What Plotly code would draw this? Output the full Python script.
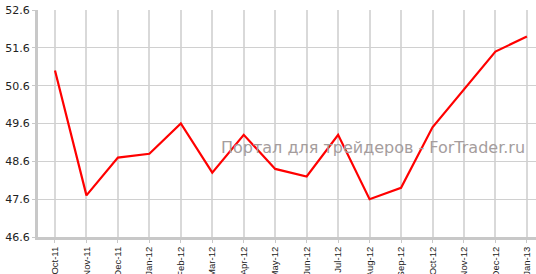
import plotly.graph_objects as go

months = ["Oct-11", "Nov-11", "Dec-11", "Jan-12", "Feb-12", "Mar-12", "Apr-12", "May-12",
          "Jun-12", "Jul-12", "Aug-12", "Sep-12", "Oct-12", "Nov-12", "Dec-12", "Jan-13"]
values = [51.0, 47.7, 48.7, 48.8, 49.6, 48.3, 49.3, 48.4, 48.2, 49.3, 47.6, 47.9, 49.5, 50.5, 51.5, 51.9]
y_ticks = [46.6, 47.6, 48.6, 49.6, 50.6, 51.6, 52.6]

fig = go.Figure()
fig.add_trace(go.Scatter(x=list(range(len(months))), y=values, mode="lines",
                         line=dict(color="#ff0000", width=2.2)))

pw = 536 - 38
ph = 274 - 47
fig.update_layout(
    width=536, height=274,
    margin=dict(l=38, r=0, t=10, b=37),
    paper_bgcolor="white", plot_bgcolor="white",
    showlegend=False,
    font=dict(family="DejaVu Sans", size=11, color="#222222"),
    annotations=[dict(text="Портал для трейдеров - ForTrader.ru",
                      x=(527 - 38) / pw, y=(274 - 37 - 147) / ph,
                      xanchor="right", yanchor="middle",
                      xref="paper", yref="paper", showarrow=False,
                      font=dict(family="DejaVu Sans", size=16, color="#a59d9d"))],
)

fig.update_xaxes(
    tickmode="array", tickvals=list(range(len(months))), ticktext=months,
    tickangle=-90, range=[-0.54, 15.29], automargin=False,
    showgrid=True, gridcolor="#d9d9d9", gridwidth=1.5,
    showline=True, linecolor="#c8c8c8", linewidth=3,
    ticks="outside", ticklen=3, tickcolor="#c8c8c8", tickwidth=1,
    ticklabelstandoff=0,
    tickfont=dict(family="Liberation Sans", size=9.5, color="#222222"),
    zeroline=False, fixedrange=True,
)
fig.update_yaxes(
    tickmode="array", tickvals=y_ticks, ticktext=[f"{v:.1f}" for v in y_ticks],
    range=[46.6, 52.6], automargin=False,
    showgrid=True, gridcolor="#d0d0d0", gridwidth=1.2,
    showline=True, linecolor="#c8c8c8", linewidth=3,
    ticks="outside", ticklen=3, tickcolor="#c8c8c8",
    tickfont=dict(family="DejaVu Sans", size=11, color="#222222"),
    zeroline=False, fixedrange=True,
)

fig.write_html("out.html")
